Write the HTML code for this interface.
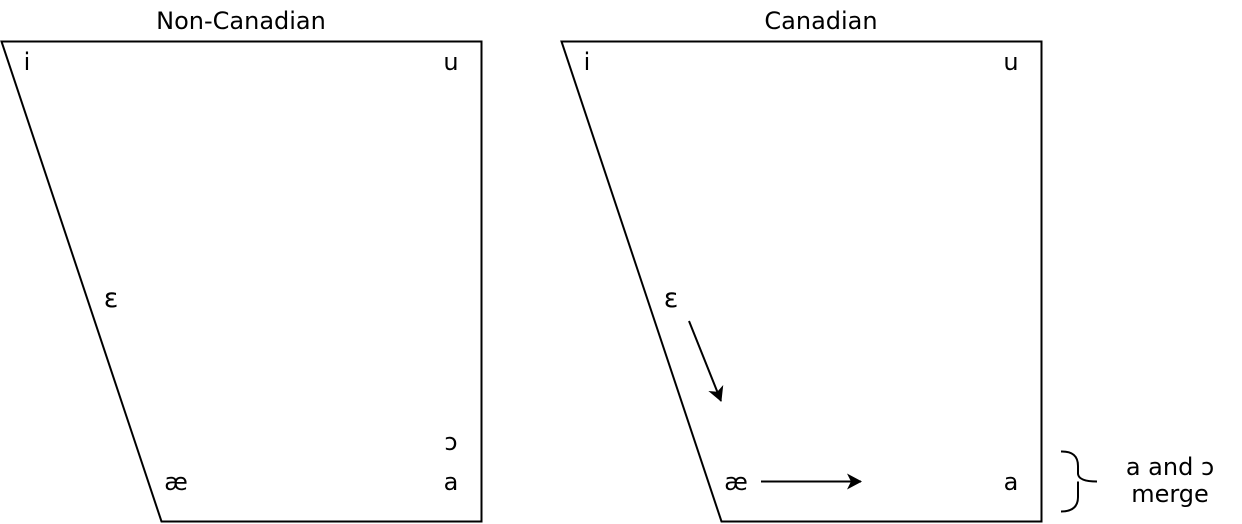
<!DOCTYPE html>
<html><head><meta charset="utf-8"><style>
html,body{margin:0;padding:0;background:#fff;}
svg{display:block;}
text{font-family:"DejaVu Sans","Liberation Sans",sans-serif;font-size:24px;fill:#000;}
</style></head><body>
<svg width="1242" height="524" viewBox="0 0 1242 524">
<defs><marker id="ah" markerWidth="18" markerHeight="18" refX="14" refY="8" orient="auto" markerUnits="userSpaceOnUse"><path d="M0,0 L15,8 L0,16 L4,8 Z" fill="#000"/></marker></defs>
<g>
<text x="241" y="29" text-anchor="middle">Non-Canadian</text>
<path d="M1.5,41.5 H481.5 V521.5 H161.5 Z" fill="none" stroke="#000" stroke-width="2"/>
<text x="27" y="70" text-anchor="middle">i</text>
<text x="451" y="70" text-anchor="middle">u</text>
<text x="111" y="307" text-anchor="middle" style="font-size:27px">ɛ</text>
<text x="451" y="450" text-anchor="middle">ɔ</text>
<text x="176" y="490" text-anchor="middle">æ</text>
<text x="451" y="490" text-anchor="middle">a</text>
</g>
<g>
<text x="821" y="29" text-anchor="middle">Canadian</text>
<path d="M561.5,41.5 H1041.5 V521.5 H721.5 Z" fill="none" stroke="#000" stroke-width="2"/>
<text x="587" y="70" text-anchor="middle">i</text>
<text x="1011" y="70" text-anchor="middle">u</text>
<text x="671" y="307" text-anchor="middle" style="font-size:27px">ɛ</text>
<text x="736" y="490" text-anchor="middle">æ</text>
<text x="1011" y="490" text-anchor="middle">a</text>
<line x1="689" y1="321" x2="721" y2="401" stroke="#000" stroke-width="2" marker-end="url(#ah)"/>
<line x1="761" y1="481.5" x2="861" y2="481.5" stroke="#000" stroke-width="2" marker-end="url(#ah)"/>
<path d="M1061,451.5 Q1078,451 1078,466 L1078,474 Q1079,481.5 1097,481.5 M1078,481.5 Q1078,489 1078,497 Q1078,511.5 1061,511.5" fill="none" stroke="#000" stroke-width="2"/>
<text x="1170" y="475" text-anchor="middle">a and ɔ</text>
<text x="1170" y="502" text-anchor="middle">merge</text>
</g>
</svg>
</body></html>
